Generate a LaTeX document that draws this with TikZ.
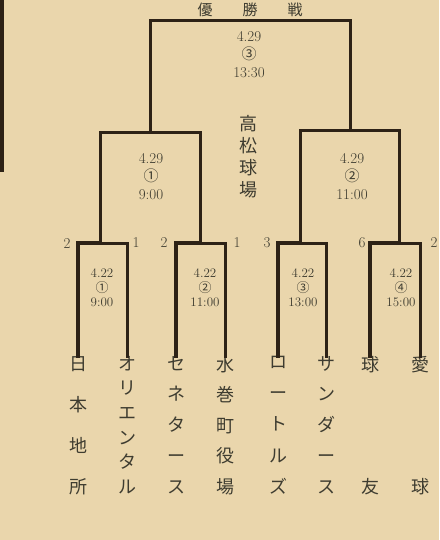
\documentclass[tikz,border=0pt]{standalone}
\usepackage{fontspec}
\newfontfamily\jp{Noto Sans CJK JP}
\definecolor{paper}{RGB}{234,214,172}
\definecolor{ink}{RGB}{45,34,22}
\definecolor{txt}{RGB}{62,60,48}
\newcommand\CJ[1]{\hbox to 20pt{\hss#1\hss}}
\newcommand\VJ[1]{\vbox to 137pt{#1}}
\tikzset{
  line/.style={draw=ink, line width=3pt, line join=miter, line cap=rect},
  winline/.style={draw=ink, line width=3.8pt, line join=miter, line cap=rect},
  team/.style={inner sep=0pt, anchor=north, text=txt, font=\jp\fontsize{18}{18}\selectfont},
  qinfo/.style={align=center, text=txt, inner sep=0pt, font=\fontsize{13}{14.5}\selectfont},
  sinfo/.style={align=center, text=txt, inner sep=0pt, font=\fontsize{15}{18}\selectfont},
  score/.style={text=txt, inner sep=0pt, font=\fontsize{15}{15}\selectfont},
  title/.style={text=txt, inner sep=0pt, font=\jp\fontsize{18}{22}\selectfont, align=center},
  toptitle/.style={text=txt, inner sep=0pt, font=\jp\fontsize{15}{15}\selectfont},
}
\begin{document}
\begin{tikzpicture}[x=1pt,y=-1pt]
\useasboundingbox[fill=paper] (0,0) rectangle (439,540);
% column rule at left edge
\coordinate (r1) at (2,0);
\coordinate (r2) at (2,172);
\draw[draw=ink, line width=4.5pt] (r1) -- (r2);

% teams
\node[team] (t1) at (78,356) {\VJ{\CJ{日}\vfill\CJ{本}\vfill\CJ{地}\vfill\CJ{所}}};
\node[team] (t2) at (127,356) {\VJ{\CJ{オ}\vfill\CJ{リ}\vfill\CJ{エ}\vfill\CJ{ン}\vfill\CJ{タ}\vfill\CJ{ル}}};
\node[team] (t3) at (176,356) {\VJ{\CJ{セ}\vfill\CJ{ネ}\vfill\CJ{タ}\vfill\CJ{ー}\vfill\CJ{ス}}};
\node[team] (t4) at (225,356) {\VJ{\CJ{水}\vfill\CJ{巻}\vfill\CJ{町}\vfill\CJ{役}\vfill\CJ{場}}};
\node[team] (t5) at (278,356) {\VJ{\CJ{ロ}\vfill\CJ{ー}\vfill\CJ{ト}\vfill\CJ{ル}\vfill\CJ{ズ}}};
\node[team] (t6) at (326,356) {\VJ{\CJ{サ}\vfill\CJ{ン}\vfill\CJ{ダ}\vfill\CJ{ー}\vfill\CJ{ス}}};
\node[team] (t7) at (370,356) {\VJ{\CJ{球}\vfill\CJ{友}}};
\node[team] (t8) at (420,356) {\VJ{\CJ{愛}\vfill\CJ{球}}};

% bracket joints
\coordinate (q1) at (100,243);
\coordinate (q2) at (200,243);
\coordinate (q3) at (300,243);
\coordinate (q4) at (399,243);
\coordinate (s1) at (150,133);
\coordinate (s2) at (350,131);
\coordinate (f)  at (250,21);

% first round
\draw[winline] (t1.north) |- (q1);
\draw[line]    (t2.north) |- (q1);
\draw[winline] (t3.north) |- (q2);
\draw[line]    (t4.north) |- (q2);
\draw[winline] (t5.north) |- (q3);
\draw[line]    (t6.north) |- (q3);
\draw[winline] (t7.north) |- (q4);
\draw[line]    (t8.north) |- (q4);
% semifinals
\draw[line] (q1) |- (s1);
\draw[line] (q2) |- (s1);
\draw[line] (q3) |- (s2);
\draw[line] (q4) |- (s2);
% final
\draw[line] (s1) |- (f);
\draw[line] (s2) |- (f);

% scores
\node[score] (a1) at (67,244) {2};
\node[score] (b1) at (136,243) {1};
\node[score] (a2) at (164,243) {2};
\node[score] (b2) at (237,243) {1};
\node[score] (a3) at (267,243) {3};
\node[score] (a4) at (362,243) {6};
\node[score] (b4) at (434,243) {2};

% game info
\node[qinfo] (g1) at (102,288) {4.22\\{\jp ①}\\9:00};
\node[qinfo] (g2) at (205,288) {4.22\\{\jp ②}\\11:00};
\node[qinfo] (g3) at (303,288) {4.22\\{\jp ③}\\13:00};
\node[qinfo] (g4) at (401,288) {4.22\\{\jp ④}\\15:00};
\node[sinfo] (h1) at (151,177) {4.29\\{\jp ①}\\9:00};
\node[sinfo] (h2) at (352,177) {4.29\\{\jp ②}\\11:00};
\node[sinfo] (h3) at (249,55) {4.29\\{\jp ③}\\13:30};

% venue
\node[title] (venue) at (248,157) {高\\松\\球\\場};
% title
\node[toptitle] (ttl) at (250,10) {優\hspace{30pt}勝\hspace{30pt}戦};
\end{tikzpicture}
\end{document}
